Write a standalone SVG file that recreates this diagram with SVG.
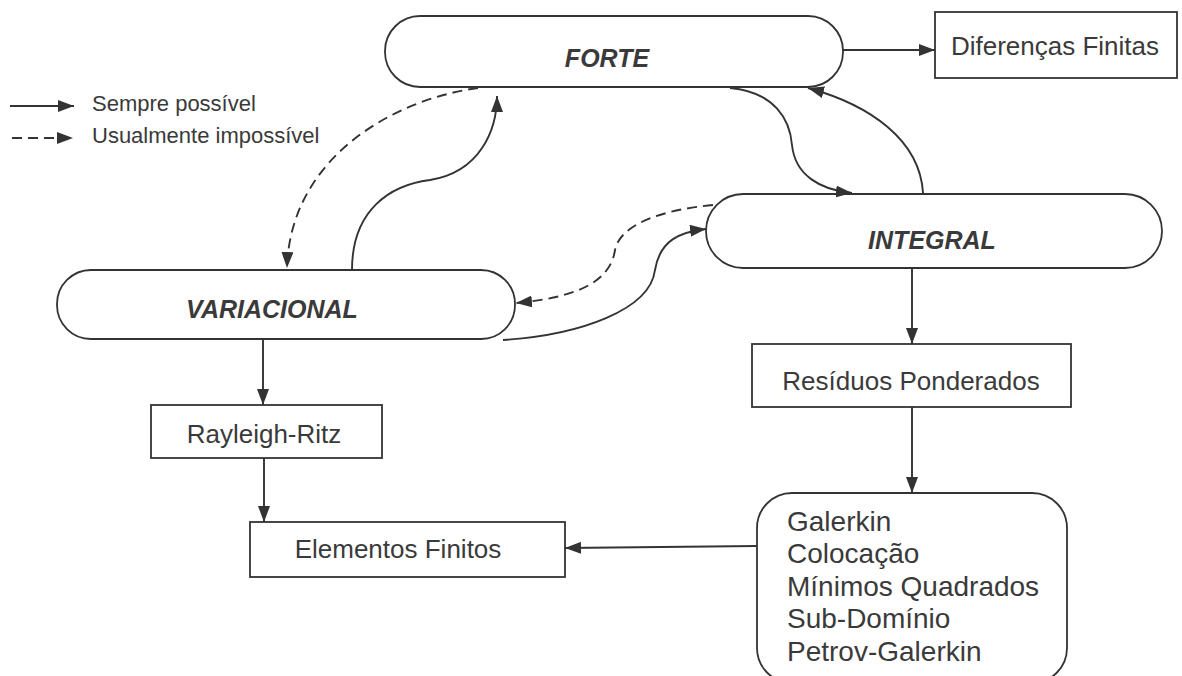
<svg xmlns="http://www.w3.org/2000/svg" width="1182" height="676" viewBox="0 0 1182 676">
  <defs>
    <marker id="arrow" viewBox="0 0 16 12" refX="16" refY="6" markerWidth="16" markerHeight="12" markerUnits="userSpaceOnUse" orient="auto">
      <path d="M0,0 L16,6 L0,12 z" fill="#333"/>
    </marker>
    <style>
      .shape { fill: #fff; stroke: #333; stroke-width: 1.8; }
      .label { font-family: "Liberation Sans", Arial, sans-serif; font-size: 26px; fill: #3a3a3a; }
      .list { font-family: "Liberation Sans", Arial, sans-serif; font-size: 28px; fill: #3a3a3a; }
      .title { font-family: "Liberation Sans", Arial, sans-serif; font-size: 25px; font-weight: bold; font-style: italic; fill: #3a3a3a; text-anchor: middle; }
      .mid { text-anchor: middle; }
      .legend { font-family: "Liberation Sans", Arial, sans-serif; font-size: 22px; fill: #3a3a3a; }
      .edge { fill: none; stroke: #333; stroke-width: 1.9; marker-end: url(#arrow); }
      .dashed { stroke-dasharray: 10 6; }
    </style>
  </defs>

  <rect width="1182" height="676" fill="#fff"/>

  <!-- legend -->
  <g id="legend">
    <line class="edge" x1="10" y1="106" x2="74" y2="106"/>
    <text class="legend" x="92" y="111">Sempre possível</text>
    <line class="edge dashed" x1="12" y1="138" x2="73" y2="138"/>
    <text class="legend" x="92" y="143">Usualmente impossível</text>
  </g>

  <!-- formulations -->
  <g id="forte">
    <rect class="shape" x="385" y="16" width="458" height="71" rx="35" ry="35"/>
    <text class="title" x="607" y="67">FORTE</text>
  </g>
  <g id="integral">
    <rect class="shape" x="706" y="194" width="456" height="74" rx="37" ry="37"/>
    <text class="title" x="932" y="249">INTEGRAL</text>
  </g>
  <g id="variacional">
    <rect class="shape" x="57" y="270" width="458" height="69" rx="34" ry="34"/>
    <text class="title" x="272" y="318">VARIACIONAL</text>
  </g>

  <!-- methods -->
  <g id="diferencas">
    <rect class="shape" x="935" y="12" width="242" height="66"/>
    <text class="label mid" x="1055" y="55">Diferenças Finitas</text>
  </g>
  <g id="residuos">
    <rect class="shape" x="752" y="344" width="319" height="63"/>
    <text class="label mid" x="911" y="390">Resíduos Ponderados</text>
  </g>
  <g id="rayleigh">
    <rect class="shape" x="151" y="405" width="231" height="53"/>
    <text class="label mid" x="264" y="443">Rayleigh-Ritz</text>
  </g>
  <g id="elementos">
    <rect class="shape" x="250" y="522" width="315" height="55"/>
    <text class="label mid" x="398" y="558">Elementos Finitos</text>
  </g>
  <g id="metodos">
    <rect class="shape" x="757" y="493" width="310" height="190" rx="35" ry="35"/>
    <text class="list" x="787" y="531">Galerkin</text>
    <text class="list" x="787" y="563">Colocação</text>
    <text class="list" x="787" y="596">Mínimos Quadrados</text>
    <text class="list" x="787" y="628">Sub-Domínio</text>
    <text class="list" x="787" y="661">Petrov-Galerkin</text>
  </g>

  <!-- connectors -->
  <g id="connectors">
    <line class="edge" x1="843" y1="50" x2="935" y2="50"/>
    <path class="edge dashed" d="M478,88 C390,100 290,160 287,268"/>
    <path class="edge" d="M352,270 C352,210 390,185 430,180 C480,172 497,130 497,96"/>
    <path class="edge" d="M730,88 C775,92 790,120 792,145 C795,175 820,190 852,193"/>
    <path class="edge" d="M923,193 C920,140 870,105 808,88"/>
    <path class="edge dashed" d="M713,205 C660,210 620,225 615,250 C610,285 570,298 516,303"/>
    <path class="edge" d="M503,340 C580,335 650,310 655,270 C660,240 680,232 706,229"/>
    <line class="edge" x1="912" y1="268" x2="912" y2="344"/>
    <line class="edge" x1="912" y1="407" x2="912" y2="493"/>
    <line class="edge" x1="263" y1="339" x2="263" y2="405"/>
    <line class="edge" x1="264" y1="458" x2="264" y2="522"/>
    <line class="edge" x1="757" y1="546" x2="565" y2="548"/>
  </g>
</svg>
